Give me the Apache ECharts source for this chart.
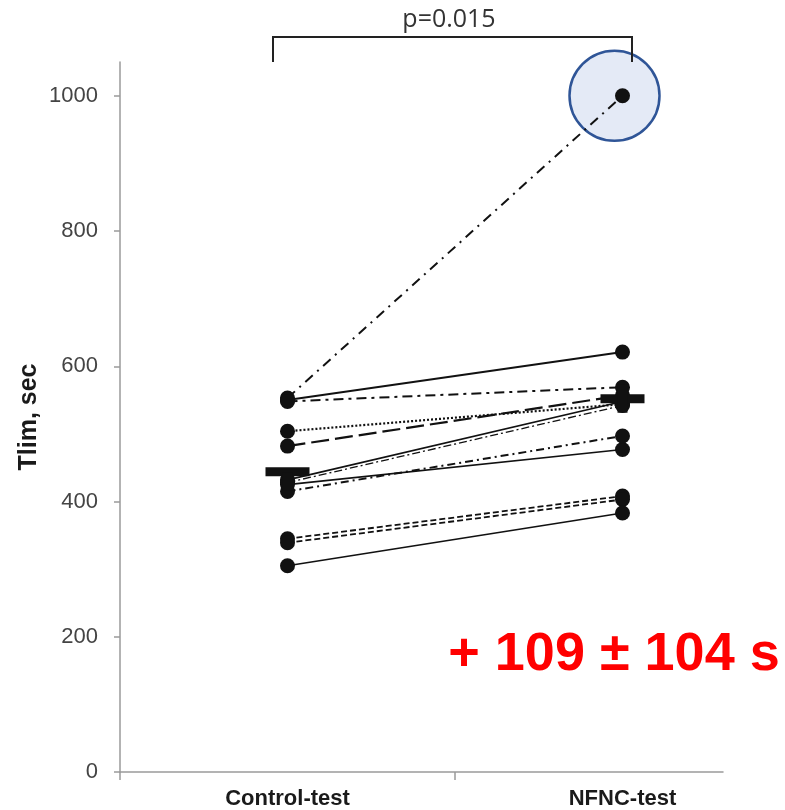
<!DOCTYPE html>
<html>
<head>
<meta charset="utf-8">
<script src="https://cdn.jsdelivr.net/npm/echarts@6/dist/echarts.min.js"></script>
<style>html,body{margin:0;padding:0;background:#fff;}#c{width:785px;height:810px;}</style>
</head>
<body>
<div id="c"></div>
<script>
// ---- data ----
var categories = ['Control-test', 'NFNC-test'];
var controlValues = [553, 550, 548, 504, 482, 432, 428, 425, 415, 345, 339, 305];
var nfncValues    = [1000, 621, 569, 544, 557, 548, 542, 477, 497, 408, 403, 383];
var meanValues = [444, 552];
var yTicks = [0, 200, 400, 600, 800, 1000];
var highlightValue = 1000;
var pText = 'p=0.015';
var diffText = '+ 109 \u00b1 104 s';

// ---- styles (one per subject line) ----
var lineTypes = [
  [10, 6, 2, 6], 'solid', [10, 5, 3, 5], [2, 2], [18, 6], 'solid',
  [8, 3, 2, 3], 'solid', [8, 4, 2, 4], [6, 3], [6, 3], 'solid'
];
var lineWidths = [2, 2, 2, 2.2, 2.2, 1.6, 1.3, 1.6, 2, 1.8, 1.8, 1.6];

var xPos = [0.5, 1.5];
var series = [];

series.push({
  type: 'scatter',
  z: 1,
  silent: true,
  symbol: 'circle',
  symbolSize: 90,
  symbolOffset: [-8, 0],
  itemStyle: { color: '#e4eaf6', borderColor: '#2f5597', borderWidth: 2.5, opacity: 1 },
  data: [[xPos[1], highlightValue]]
});

for (var i = 0; i < controlValues.length; i++) {
  series.push({
    type: 'line',
    z: 3,
    silent: true,
    symbol: 'circle',
    symbolSize: 15,
    showSymbol: true,
    itemStyle: { color: '#111', opacity: 1 },
    lineStyle: { color: '#111', width: lineWidths[i], type: lineTypes[i] },
    data: [[xPos[0], controlValues[i]], [xPos[1], nfncValues[i]]]
  });
}

// mean markers: horizontal bars
series.push({
  type: 'scatter',
  z: 5,
  silent: true,
  symbol: 'rect',
  symbolSize: [44, 9],
  itemStyle: { color: '#111', opacity: 1 },
  data: [[xPos[0], meanValues[0]], [xPos[1], meanValues[1]]]
});
// stems (T below for control, plus for NFNC)
series.push({
  type: 'scatter',
  z: 5,
  silent: true,
  symbol: 'rect',
  symbolSize: [10, 18],
  symbolOffset: [0, 10],
  itemStyle: { color: '#111', opacity: 1 },
  data: [[xPos[0], meanValues[0]]]
});
series.push({
  type: 'scatter',
  z: 5,
  silent: true,
  symbol: 'rect',
  symbolSize: [10, 28],
  itemStyle: { color: '#111', opacity: 1 },
  data: [[xPos[1], meanValues[1]]]
});

var chart = echarts.init(document.getElementById('c'), null, { renderer: 'canvas' });
chart.setOption({
  animation: false,
  backgroundColor: '#fff',
  grid: { left: 120, right: 62, top: 62, bottom: 38, containLabel: false },
  xAxis: {
    type: 'value',
    min: 0,
    max: 1.8,
    interval: 0.5,
    splitLine: { show: false },
    axisLine: { show: true, lineStyle: { color: '#9a9a9a', width: 1.5 } },
    axisTick: { show: true, customValues: [0, 1], length: 8, inside: false, lineStyle: { color: '#9a9a9a', width: 1.5 } },
    axisLabel: {
      customValues: xPos,
      formatter: function (v) { return v < 1 ? categories[0] : categories[1]; },
      color: '#1a1a1a',
      fontFamily: 'Liberation Sans, Arial, sans-serif',
      fontWeight: 'bold',
      fontSize: 22,
      margin: 16
    }
  },
  yAxis: {
    type: 'value',
    min: 0,
    max: 1050,
    name: 'Tlim, sec',
    nameLocation: 'middle',
    nameGap: 78,
    nameMoveOverlap: false,
    nameTextStyle: { color: '#1a1a1a', fontFamily: 'Liberation Sans, Arial, sans-serif', fontWeight: 'bold', fontSize: 25 },
    splitLine: { show: false },
    axisLine: { show: true, lineStyle: { color: '#9a9a9a', width: 1.5 } },
    axisTick: { show: true, customValues: yTicks, length: 6, lineStyle: { color: '#9a9a9a', width: 1.5 } },
    axisLabel: {
      customValues: yTicks,
      formatter: function (v) { return String(v); },
      color: '#444',
      fontFamily: 'Liberation Sans, Arial, sans-serif',
      fontSize: 22,
      margin: 22
    }
  },
  graphic: [
    { type: 'polyline', z: 10, shape: { points: [[273, 62], [273, 37], [632, 37], [632, 62]] },
      style: { stroke: '#222', lineWidth: 2, fill: null } },
    { type: 'text', z: 10, x: 449, y: 20,
      style: { text: pText, fill: '#333', font: '25px "Open Sans", "Liberation Sans", Arial, sans-serif', align: 'center', verticalAlign: 'middle' } },
    { type: 'text', z: 10, x: 614, y: 655,
      style: { text: diffText, fill: '#ff0000', font: 'bold 54px "Liberation Sans", Arial, sans-serif', align: 'center', verticalAlign: 'middle' } }
  ],
  series: series
});
</script>
</body>
</html>
